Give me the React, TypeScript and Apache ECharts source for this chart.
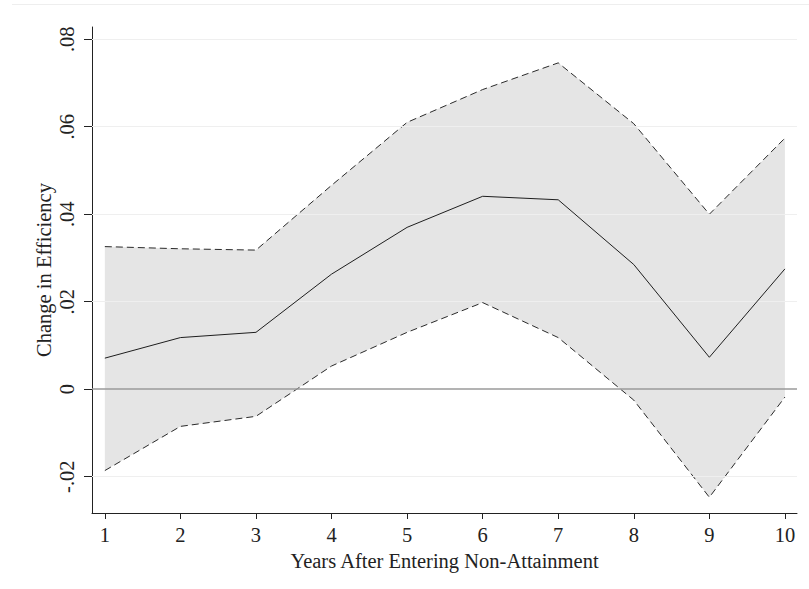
import React, { useEffect, useRef } from "react";
import * as echarts from "echarts";

// Years after entering non-attainment
const years = [1, 2, 3, 4, 5, 6, 7, 8, 9, 10];
// Point estimate of change in efficiency
const estimate = [0.0071, 0.0118, 0.013, 0.0263, 0.037, 0.0441, 0.0433, 0.0285, 0.0073, 0.0275];
// 95% confidence bounds
const upperCI = [0.0326, 0.0321, 0.0318, 0.0466, 0.061, 0.0685, 0.0746, 0.0607, 0.04, 0.0574];
const lowerCI = [-0.0186, -0.0085, -0.0062, 0.0053, 0.013, 0.0198, 0.0118, -0.0025, -0.0247, -0.0018];

// Y-axis ticks and their labels
const yTickValues = [-0.02, 0, 0.02, 0.04, 0.06, 0.08];
const yTickLabels = ["-.02", "0", ".02", ".04", ".06", ".08"];

const FONT = "'Liberation Serif', 'Times New Roman', serif";
const INK = "#222222";
const FS = 20.5;

export default function App() {
  const ref = useRef<HTMLDivElement>(null);

  useEffect(() => {
    if (!ref.current) return;
    const chart = echarts.init(ref.current, null, { renderer: "svg" });

    const bandData = years.map((y, i) => [y, upperCI[i], lowerCI[i]]);

    const option = {
      animation: false,
      backgroundColor: "#ffffff",
      textStyle: { fontFamily: FONT },
      grid: { left: 92, right: 12, top: 27, bottom: 76, containLabel: false },
      graphic: [
        {
          type: "line",
          shape: { x1: 12, y1: 4.5, x2: 809, y2: 4.5 },
          style: { stroke: "#eeeeee", lineWidth: 1 },
          silent: true,
        },
      ],
      xAxis: {
        type: "value",
        min: 0.83,
        max: 10.16,
        name: "Years After Entering Non-Attainment",
        nameLocation: "middle",
        nameGap: 40,
        nameMoveOverlap: false,
        nameTextStyle: { fontFamily: FONT, fontSize: FS, color: INK, lineHeight: 16 },
        axisLine: { show: true, onZero: false, lineStyle: { color: INK, width: 1 } },
        axisTick: { show: true, length: 6, customValues: years, lineStyle: { color: INK } },
        axisLabel: {
          customValues: years,
          margin: 14,
          fontFamily: FONT,
          fontSize: FS,
          lineHeight: 16,
          color: INK,
          formatter: (v: number) => String(v),
        },
        splitLine: { show: false },
      },
      yAxis: {
        type: "value",
        min: -0.0283,
        max: 0.0828,
        name: "Change in Efficiency",
        nameLocation: "middle",
        nameGap: 38,
        nameMoveOverlap: false,
        nameTextStyle: { fontFamily: FONT, fontSize: FS, color: INK },
        axisLine: { show: true, onZero: false, lineStyle: { color: INK, width: 1 } },
        axisTick: { show: true, length: 8, customValues: yTickValues, lineStyle: { color: INK } },
        axisLabel: {
          customValues: yTickValues,
          rotate: 90,
          margin: 15,
          fontFamily: FONT,
          fontSize: FS,
          color: INK,
          formatter: (v: number) => {
            const idx = yTickValues.findIndex((t) => Math.abs(t - v) < 1e-9);
            return idx >= 0 ? yTickLabels[idx] : "";
          },
        },
        splitLine: { show: false },
      },
      series: [
        {
          // faint horizontal grid lines at each labelled tick
          type: "line",
          data: [],
          z: 1,
          silent: true,
          markLine: {
            silent: true,
            symbol: "none",
            label: { show: false },
            lineStyle: { color: "#efefef", width: 1, type: "solid" },
            data: yTickValues.filter((v) => v !== 0).map((v) => ({ yAxis: v })),
          },
        },
        {
          // confidence band
          type: "custom",
          z: 2,
          silent: true,
          data: bandData,
          renderItem: (params: any, api: any) => {
            if (params.dataIndex !== 0) return null;
            const top = years.map((y, i) => api.coord([y, upperCI[i]]));
            const bottom = years.map((y, i) => api.coord([y, lowerCI[i]])).reverse();
            return {
              type: "polygon",
              shape: { points: top.concat(bottom) },
              style: { fill: "#e5e5e5", stroke: "none" },
            };
          },
        },
        {
          // zero reference line
          type: "line",
          data: [],
          z: 3,
          silent: true,
          markLine: {
            silent: true,
            symbol: "none",
            label: { show: false },
            lineStyle: { color: "#9a9a9a", width: 1.5, type: "solid" },
            data: [{ yAxis: 0 }],
          },
        },
        {
          name: "Upper bound",
          type: "line",
          z: 4,
          data: years.map((y, i) => [y, upperCI[i]]),
          showSymbol: false,
          symbol: "none",
          lineStyle: { color: "#2a2a2a", width: 1, type: [7, 4] },
        },
        {
          name: "Lower bound",
          type: "line",
          z: 4,
          data: years.map((y, i) => [y, lowerCI[i]]),
          showSymbol: false,
          symbol: "none",
          lineStyle: { color: "#2a2a2a", width: 1, type: [7, 4] },
        },
        {
          name: "Estimate",
          type: "line",
          z: 5,
          data: years.map((y, i) => [y, estimate[i]]),
          showSymbol: false,
          symbol: "none",
          lineStyle: { color: "#1e1e1e", width: 1 },
        },
      ],
    };

    chart.setOption(option as any);
    return () => chart.dispose();
  }, []);

  return (
    <div
      ref={ref}
      style={{ position: "fixed", left: 0, top: 0, width: 809, height: 589, background: "#fff" }}
    />
  );
}
